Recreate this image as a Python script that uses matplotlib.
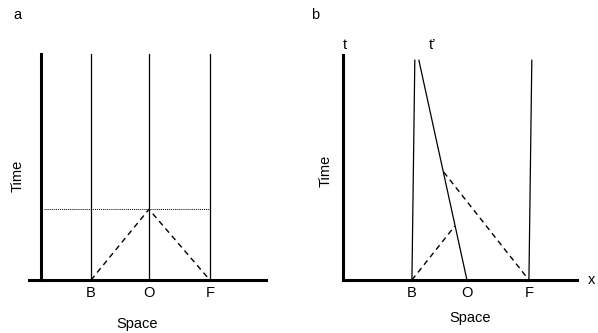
import matplotlib.pyplot as plt

plt.rcParams['font.family'] = ['Liberation Sans', 'DejaVu Sans']
plt.rcParams['font.size'] = 10.5

# Panel a: stationary observers B, O, F (space units, time units)
labels = ["B", "O", "F"]
space_a = [-1.0, 0.0, 1.05]
top_a = 3.9
meet_a = 1.22          # time at which light from B and F reaches O
axis_x_a = -1.86       # position of the time axis
xlim_a = (-2.07, 2.02)

# Panel b: moving frame, worldlines tilted
bottom_b = [-0.95, 0.0, 1.07]
top_x_b = [-0.90, -0.83, 1.12]
worldline_top_b = 3.79
top_b = 3.88
axis_x_b = -2.14
xlim_b = (-2.14, 1.90)
signal1_x = [-0.95, -0.21]
signal1_t = [0.0, 0.93]
signal2_x = [-0.40, 1.07]
signal2_t = [1.86, 0.0]

fig = plt.figure(figsize=(5.98, 3.33), dpi=100)
W, H = 598, 333


def make_axes(x0, x1, y0, y1):
    return fig.add_axes([x0 / W, (H - y1) / H, (x1 - x0) / W, (y1 - y0) / H])


def style(ax, xlim, ytop, axis_x, ticks):
    ax.set_xlim(*xlim)
    ax.set_ylim(0, ytop)
    for s in ["top", "right"]:
        ax.spines[s].set_visible(False)
    ax.spines['left'].set_position(('data', axis_x))
    ax.spines['left'].set_linewidth(2.2)
    ax.spines['bottom'].set_linewidth(2.2)
    ax.set_yticks([])
    ax.set_xticks(ticks)
    ax.set_xticklabels(labels)
    ax.tick_params(axis='x', length=0, pad=4.5)
    ax.patch.set_visible(False)


def place_labels(ax, sx, sy, tx, ty):
    ax.set_xlabel("Space")
    ax.xaxis.label.set_va('baseline')
    ax.xaxis.set_label_coords(sx, sy)
    ax.set_ylabel("Time")
    ax.yaxis.label.set_va('center')
    ax.yaxis.set_label_coords(tx, ty)


# ---- panel a ----
ax1 = make_axes(29, 266, 54, 280)
style(ax1, xlim_a, top_a, axis_x_a, space_a)
for x in space_a:
    ax1.plot([x, x], [0, top_a], color='black', lw=0.9, clip_on=False)
ax1.plot([axis_x_a + 0.05, space_a[2]], [meet_a, meet_a], color='black', lw=0.7,
         linestyle=(0, (1, 1)), clip_on=False)
ax1.plot([space_a[0], space_a[1], space_a[2]], [0, meet_a, 0], color='black', lw=1.0,
         linestyle=(0, (4, 3)), clip_on=False)
place_labels(ax1, 0.456, -0.212, -0.0485, 0.46)

# ---- panel b ----
ax2 = make_axes(343, 577, 55, 280)
style(ax2, xlim_b, top_b, axis_x_b, bottom_b)
for xb, xt in zip(bottom_b, top_x_b):
    ax2.plot([xb, xt], [0, worldline_top_b], color='black', lw=0.9, clip_on=False)
ax2.plot(signal1_x, signal1_t, color='black', lw=1.0, linestyle=(0, (4, 3)), clip_on=False)
ax2.plot(signal2_x, signal2_t, color='black', lw=1.0, linestyle=(0, (4, 3)), clip_on=False)
ax2.text(axis_x_b + 0.04, 4.05, "t", ha='center', va='center')
ax2.text(-0.60, 4.05, "t\u2019", ha='center', va='center')
ax2.text(xlim_b[1] + 0.25, 0, "x", ha='center', va='center')
place_labels(ax2, 0.543, -0.187, -0.075, 0.484)

fig.text(17 / W, 1 - 15 / H, "a", ha='center', va='center')
fig.text(315 / W, 1 - 15 / H, "b", ha='center', va='center')

fig.savefig("out.png", dpi=100)
